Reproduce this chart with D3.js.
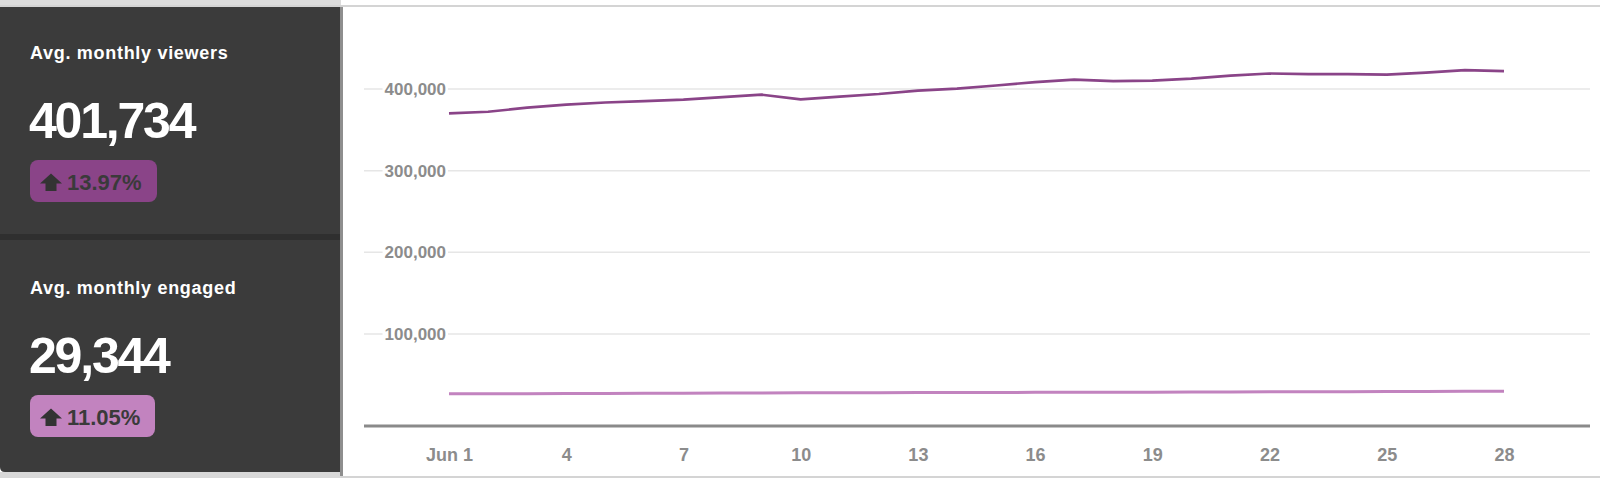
<!DOCTYPE html>
<html>
<head>
<meta charset="utf-8">
<script src="https://cdn.jsdelivr.net/npm/d3@7/dist/d3.min.js"></script>
<style>
  body { margin: 0; background: #fff; }
  svg { display: block; font-family: "Liberation Sans", Arial, sans-serif; }
</style>
</head>
<body>
<svg width="1600" height="478"></svg>
<script>
// data
var days = [1, 2, 3, 4, 5, 6, 7, 8, 9, 10, 11, 12, 13, 14, 15, 16, 17, 18, 19, 20, 21, 22, 23, 24, 25, 26, 27, 28];
var viewers = [370100, 372100, 377200, 380900, 383400, 385200, 387000, 390100, 393100, 387300,
               390700, 393800, 398000, 400500, 404200, 408400, 411500, 409700, 410300, 412700,
               416400, 418900, 418200, 418200, 417600, 420100, 423100, 421900];
var engaged = [26900, 27000, 27000, 27300, 27300, 27400, 27500, 27800, 27800, 28000,
               28000, 28200, 28300, 28400, 28400, 28600, 28700, 28700, 28800, 28900,
               29100, 29300, 29300, 29400, 29500, 29600, 29800, 30000];
var xTicks = [1, 4, 7, 10, 13, 16, 19, 22, 25, 28];
var yTicks = [100000, 200000, 300000, 400000];
var cardTitles = ["Avg. monthly viewers", "Avg. monthly engaged"];
var cardValues = [401734, 29344];
var cardChanges = [13.97, 11.05];

var colors = ["#8a4488", "#c283bf"];

var svg = d3.select("svg");

var x = d3.scaleLinear().domain([1, 28]).range([449, 1504]);
var y = d3.scaleLinear().domain([0, 400000]).range([415.7, 89]);

// frame
svg.append("rect").attr("x", 0).attr("y", 0).attr("width", 341).attr("height", 6).attr("fill", "#dcdcdc");
svg.append("rect").attr("x", 0).attr("y", 5).attr("width", 1600).attr("height", 2).attr("fill", "#d4d4d4");
svg.append("rect").attr("x", 0).attr("y", 476).attr("width", 1600).attr("height", 2).attr("fill", "#d4d4d4");
svg.append("rect").attr("x", 0).attr("y", 472).attr("width", 341).attr("height", 6).attr("fill", "#d8d8d8");

// dark side panel
svg.append("path")
  .attr("d", "M0,7 H340 V472 H5 Q0,472 0,467 Z")
  .attr("fill", "#3b3b3b");
svg.append("rect").attr("x", 0).attr("y", 234).attr("width", 340).attr("height", 6).attr("fill", "#2f2f2f");
svg.append("rect").attr("x", 340).attr("y", 7).attr("width", 3).attr("height", 469).attr("fill", "#8e8e8e");

function drawCard(i) {
  var oy = i * 235;
  var g = svg.append("g").attr("transform", "translate(0," + oy + ")");
  g.append("text")
    .attr("x", 30).attr("y", 59)
    .attr("fill", "#fff")
    .attr("font-size", "18px")
    .attr("font-weight", "bold")
    .attr("letter-spacing", "0.7px")
    .text(cardTitles[i]);
  g.append("text")
    .attr("x", 29).attr("y", 138)
    .attr("fill", "#fff")
    .attr("font-size", "50px")
    .attr("font-weight", "bold")
    .attr("letter-spacing", "-2.2px")
    .text(d3.format(",")(cardValues[i]));
  g.append("rect")
    .attr("x", 30).attr("y", 160)
    .attr("width", i == 0 ? 127 : 125).attr("height", 42)
    .attr("rx", 8)
    .attr("fill", colors[i]);
  g.append("path")
    .attr("d", "M51,173.5 L62,183.5 L56.5,183.5 L56.5,191 L45.5,191 L45.5,183.5 L40,183.5 Z")
    .attr("fill", "#333");
  g.append("text")
    .attr("x", 67).attr("y", 190)
    .attr("fill", "#3a3a3a")
    .attr("font-size", "22px")
    .attr("font-weight", "bold")
    .text(d3.format(".2f")(cardChanges[i]) + "%");
}
drawCard(0);
drawCard(1);

// chart
var chart = svg.append("g");

chart.selectAll(".grid")
  .data(yTicks)
  .enter()
  .append("line")
  .attr("class", "grid")
  .attr("x1", 364).attr("x2", 1590)
  .attr("y1", function (d) { return y(d); })
  .attr("y2", function (d) { return y(d); })
  .attr("stroke", "#e6e6e6")
  .attr("stroke-width", 1.5);

var yLabels = chart.selectAll(".ylab")
  .data(yTicks)
  .enter()
  .append("g")
  .attr("class", "ylab");
yLabels.append("text")
  .attr("x", 446)
  .attr("y", function (d) { return y(d); })
  .attr("dy", "0.35em")
  .attr("text-anchor", "end")
  .attr("font-size", "17px")
  .attr("font-weight", "bold")
  .attr("fill", "#8c8c8c")
  .text(function (d) { return d3.format(",")(d); });
yLabels.each(function () {
  var t = d3.select(this).select("text");
  var b = t.node().getBBox();
  d3.select(this).insert("rect", "text")
    .attr("x", b.x - 2).attr("y", b.y)
    .attr("width", b.width + 4).attr("height", b.height)
    .attr("fill", "#fff");
});

var xAxis = chart.append("g")
  .attr("transform", "translate(0,426)")
  .call(d3.axisBottom(x)
    .tickValues(xTicks)
    .tickSize(0)
    .tickPadding(22)
    .tickFormat(function (d) { return d == 1 ? "Jun 1" : d; }));
xAxis.select(".domain").remove();
xAxis.selectAll("text")
  .attr("font-size", "18px")
  .attr("font-weight", "bold")
  .attr("font-family", "Liberation Sans, Arial, sans-serif")
  .attr("fill", "#8c8c8c");

chart.append("line")
  .attr("x1", 364).attr("x2", 1590)
  .attr("y1", 426).attr("y2", 426)
  .attr("stroke", "#8a8a8a")
  .attr("stroke-width", 3);

var line = d3.line()
  .x(function (d, i) { return x(days[i]); })
  .y(function (d) { return y(d); });

chart.append("path")
  .datum(engaged)
  .attr("d", line)
  .attr("fill", "none")
  .attr("stroke", colors[1])
  .attr("stroke-width", 3);

chart.append("path")
  .datum(viewers)
  .attr("d", line)
  .attr("fill", "none")
  .attr("stroke", colors[0])
  .attr("stroke-width", 2.6)
  .attr("stroke-linejoin", "round");
</script>
</body>
</html>
